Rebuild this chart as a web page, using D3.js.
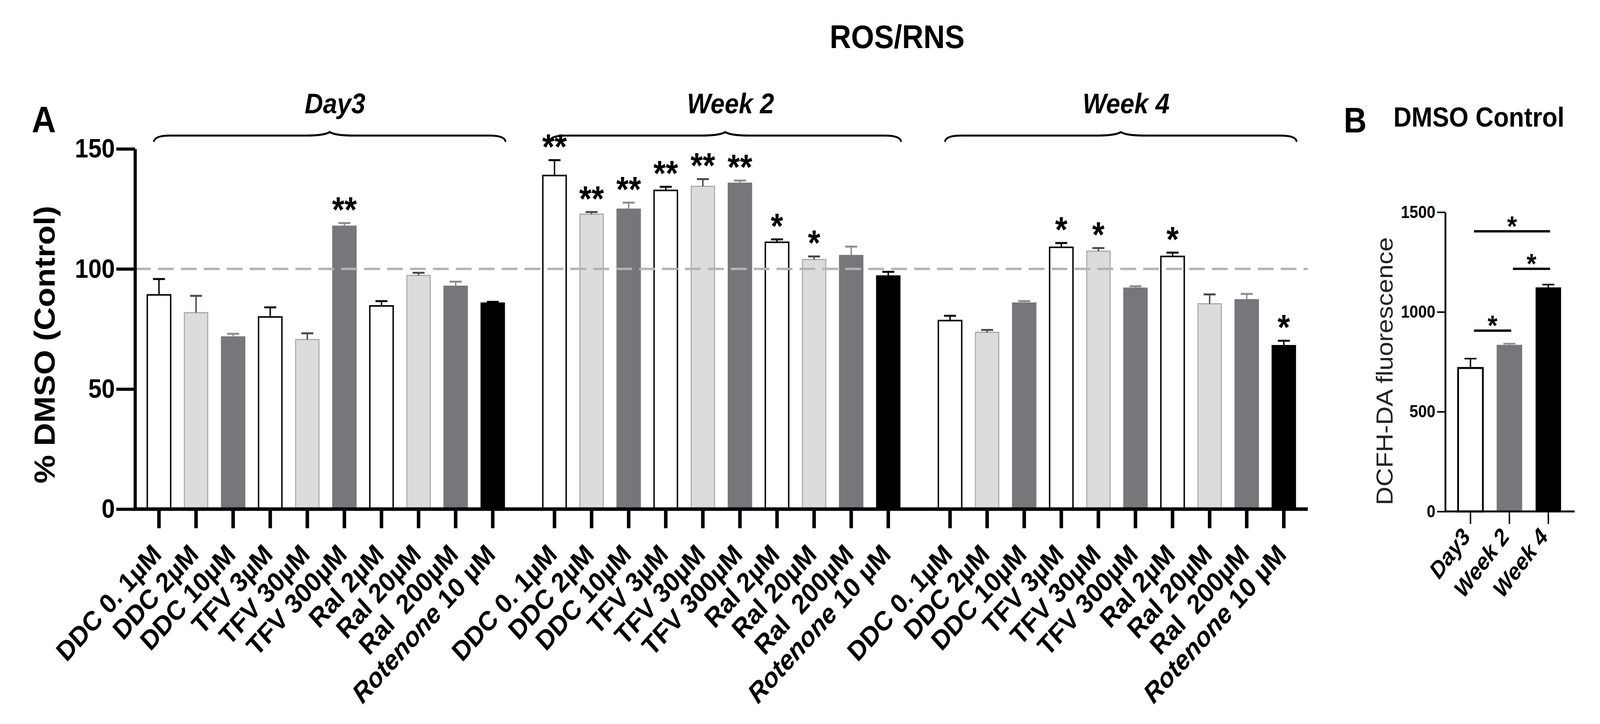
<!DOCTYPE html>
<html>
<head>
<meta charset="utf-8">
<script src="https://cdn.jsdelivr.net/npm/d3@7"></script>
<style>
  html, body { margin: 0; padding: 0; background: #fff; overflow: hidden; }
  svg { display: block; width: 100vw; height: 100vh; font-family: "Liberation Sans", Arial, Helvetica, sans-serif; }
  text { white-space: pre; }
</style>
</head>
<body>
<svg id="chart" viewBox="0 0 4539 1853" preserveAspectRatio="none"></svg>
<script>
// ---- panel A data ----
const groups = ['Day3', 'Week 2', 'Week 4'];
const compounds = ['DDC 0. 1µM', 'DDC 2µM', 'DDC 10µM', 'TFV 3µM', 'TFV 30µM', 'TFV 300µM',
  'Ral 2µM', 'Ral 20µM', 'Ral  200µM', 'Rotenone 10 µM'];
const shades = ['white', 'light', 'dark', 'white', 'light', 'dark', 'white', 'light', 'dark', 'black'];

const day3Mean = [89.2, 81.8, 71.7, 80.0, 70.6, 117.8, 84.6, 97.3, 92.8, 85.8];
const day3Err = [6.6, 7.0, 1.3, 4.0, 2.6, 1.3, 2.0, 1.1, 1.9, 0.5];
const day3Sig = ['', '', '', '', '', '**', '', '', '', ''];

const week2Mean = [138.9, 122.8, 124.9, 132.7, 134.4, 135.7, 111.1, 103.9, 105.6, 97.1];
const week2Err = [6.4, 0.9, 2.7, 1.5, 3.0, 1.1, 1.2, 1.3, 3.7, 1.7];
const week2Sig = ['**', '**', '**', '**', '**', '**', '*', '*', '', ''];

const week4Mean = [78.5, 73.6, 85.8, 109.0, 107.4, 92.0, 105.2, 85.5, 87.2, 68.1];
const week4Err = [2.0, 1.0, 0.8, 1.8, 1.3, 0.8, 1.6, 3.9, 2.4, 2.0];
const week4Sig = ['', '', '', '*', '*', '', '*', '', '', '*'];

const yTicks = [0, 50, 100, 150];
const controlLevel = 100;

// ---- panel B data ----
const dmsoGroups = ['Day3', 'Week 2', 'Week 4'];
const dmsoMean = [719, 833, 1121];
const dmsoErr = [47, 8, 16];
const dmsoShades = ['white', 'dark', 'black'];
const dmsoTicks = [0, 500, 1000, 1500];
const dmsoComparisons = [
  { from: 'Day3', to: 'Week 2', level: 906, label: '*' },
  { from: 'Week 2', to: 'Week 4', level: 1216, label: '*' },
  { from: 'Day3', to: 'Week 4', level: 1404, label: '*' }
];

const shadeStyle = {
  white: { fill: '#ffffff', stroke: '#000000', err: '#000000' },
  light: { fill: '#dcdcdc', stroke: '#a9a9a9', err: '#4a4a4a' },
  dark: { fill: '#76767b', stroke: '#76767b', err: '#8d8d91' },
  black: { fill: '#000000', stroke: '#000000', err: '#000000' }
};

const svg = d3.select('#chart');

// title
svg.append('text')
  .attr('x', 2545).attr('y', 123)
  .attr('text-anchor', 'middle')
  .attr('font-size', 84).attr('font-weight', 'bold')
  .text('ROS/RNS');

// ================= Panel A =================
const series = [
  { group: 'Day3', mean: day3Mean, err: day3Err, sig: day3Sig },
  { group: 'Week 2', mean: week2Mean, err: week2Err, sig: week2Sig },
  { group: 'Week 4', mean: week4Mean, err: week4Err, sig: week4Sig }
];
const rows = series.flatMap(s => compounds.map((c, i) => ({
  group: s.group, compound: c, mean: s.mean[i], err: s.err[i], sig: s.sig[i], shade: shades[i]
})));

const x0 = d3.scaleBand().domain(groups).range([383, 3710])
  .paddingInner(0.0624).paddingOuter(0.0137);
const x1 = d3.scaleBand().domain(compounds).range([0, x0.bandwidth()])
  .paddingInner(0.37).paddingOuter(0.185);
const y = d3.scaleLinear().domain([0, 150]).range([1303, 381]);
const cx = d => x0(d.group) + x1(d.compound) + x1.bandwidth() / 2;

svg.append('text')
  .attr('x', 90).attr('y', 339)
  .attr('font-size', 95).attr('font-weight', 'bold')
  .text('A');

const plotA = svg.append('g');

// bars
plotA.selectAll('.bar')
  .data(rows)
  .enter()
  .append('rect')
  .attr('class', 'bar')
  .attr('x', d => x0(d.group) + x1(d.compound))
  .attr('y', d => y(d.mean))
  .attr('width', x1.bandwidth())
  .attr('height', d => y(0) - y(d.mean))
  .attr('fill', d => shadeStyle[d.shade].fill)
  .attr('stroke', d => shadeStyle[d.shade].stroke)
  .attr('stroke-width', d => d.shade === 'white' ? 4 : 3);

// error bars (upper only)
const errA = plotA.selectAll('.err')
  .data(rows)
  .enter()
  .append('g')
  .attr('class', 'err')
  .attr('stroke', d => shadeStyle[d.shade].err);
errA.append('line')
  .attr('x1', cx).attr('x2', cx)
  .attr('y1', d => y(d.mean)).attr('y2', d => y(d.mean + d.err))
  .attr('stroke-width', 4);
errA.append('line')
  .attr('x1', d => cx(d) - 17).attr('x2', d => cx(d) + 17)
  .attr('y1', d => y(d.mean + d.err)).attr('y2', d => y(d.mean + d.err))
  .attr('stroke-width', 5);

// dashed control line
plotA.append('line')
  .attr('x1', x0.range()[0]).attr('x2', x0.range()[1])
  .attr('y1', y(controlLevel)).attr('y2', y(controlLevel))
  .attr('stroke', '#b3b3b3')
  .attr('stroke-width', 6)
  .attr('stroke-dasharray', '45 20');

// y axis
const yAxisA = plotA.append('g')
  .attr('transform', `translate(${x0.range()[0]},0)`)
  .call(d3.axisLeft(y).tickValues(yTicks).tickSize(53).tickSizeOuter(0).tickPadding(4));
yAxisA.select('.domain').attr('stroke-width', 9);
yAxisA.selectAll('.tick line').attr('stroke-width', 8);
yAxisA.selectAll('.tick text')
  .attr('font-size', 68).attr('font-weight', 'bold')
  .attr('font-family', '"Liberation Sans", Arial, sans-serif')
  .attr('fill', '#000');

// x axis line and ticks
plotA.append('line')
  .attr('x1', x0.range()[0] - 4).attr('x2', x0.range()[1])
  .attr('y1', y(0)).attr('y2', y(0))
  .attr('stroke', '#000').attr('stroke-width', 9);
plotA.selectAll('.xtick')
  .data(rows)
  .enter()
  .append('line')
  .attr('class', 'xtick')
  .attr('x1', cx).attr('x2', cx)
  .attr('y1', y(0)).attr('y2', y(0) + 49)
  .attr('stroke', '#000').attr('stroke-width', 10);

// x labels
const labelsA = plotA.selectAll('.xlabel')
  .data(rows)
  .enter()
  .append('text')
  .attr('class', 'xlabel')
  .attr('transform', d => `translate(${cx(d) + 11},${y(0) + 120}) rotate(-45)`)
  .attr('text-anchor', 'end')
  .attr('font-size', 70).attr('font-weight', 'bold');
labelsA.each(function(d) {
  const t = d3.select(this);
  if (d.compound.startsWith('Rotenone')) {
    t.append('tspan').attr('font-style', 'italic').text('Rotenone');
    t.append('tspan').text(d.compound.slice('Rotenone'.length));
  } else {
    t.text(d.compound);
  }
});

// significance stars
plotA.selectAll('.sig')
  .data(rows.filter(d => d.sig))
  .enter()
  .append('text')
  .attr('class', 'sig')
  .attr('x', cx)
  .attr('y', d => y(d.mean + d.err) - 3)
  .attr('text-anchor', 'middle')
  .attr('font-size', 90).attr('font-weight', 'bold')
  .text(d => d.sig);

// braces with group labels
function bracePath(xa, xb) {
  const mid = (xa + xb) / 2;
  const p = d3.path();
  p.moveTo(xa, 361);
  p.quadraticCurveTo(xa + 4, 347, xa + 45, 347);
  p.lineTo(mid - 70, 347);
  p.quadraticCurveTo(mid - 15, 347, mid, 338);
  p.quadraticCurveTo(mid + 15, 347, mid + 70, 347);
  p.lineTo(xb - 45, 347);
  p.quadraticCurveTo(xb - 4, 347, xb, 361);
  return p.toString();
}
groups.forEach(g => {
  const first = cx({ group: g, compound: compounds[0] });
  const last = cx({ group: g, compound: compounds[compounds.length - 1] });
  const xa = first - 14, xb = last + 36;
  plotA.append('path')
    .attr('d', bracePath(xa, xb))
    .attr('fill', 'none')
    .attr('stroke', '#000')
    .attr('stroke-width', 5)
    .attr('stroke-linecap', 'round');
  plotA.append('text')
    .attr('x', (xa + xb) / 2 + 15).attr('y', 290)
    .attr('text-anchor', 'middle')
    .attr('font-size', 72).attr('font-weight', 'bold').attr('font-style', 'italic')
    .text(g);
});

// y title
plotA.append('text')
  .attr('transform', 'translate(155,882) rotate(-90)')
  .attr('text-anchor', 'middle')
  .attr('font-size', 82).attr('font-weight', 'bold')
  .text('% DMSO (Control)');

// ================= Panel B =================
const dmsoRows = dmsoGroups.map((g, i) => ({
  group: g, mean: dmsoMean[i], err: dmsoErr[i], shade: dmsoShades[i]
}));

const xb = d3.scaleBand().domain(dmsoGroups).range([4100, 4464])
  .paddingInner(0.364).paddingOuter(0.33);
const yb = d3.scaleLinear().domain([0, 1500]).range([1309, 543]);
const cxb = g => xb(g) + xb.bandwidth() / 2;

svg.append('text')
  .attr('x', 3812).attr('y', 339)
  .attr('font-size', 90).attr('font-weight', 'bold')
  .text('B');
svg.append('text')
  .attr('x', 3953).attr('y', 324)
  .attr('font-size', 71).attr('font-weight', 'bold')
  .text('DMSO Control');

const plotB = svg.append('g');

plotB.selectAll('.bbar')
  .data(dmsoRows)
  .enter()
  .append('rect')
  .attr('class', 'bbar')
  .attr('x', d => xb(d.group))
  .attr('y', d => yb(d.mean))
  .attr('width', xb.bandwidth())
  .attr('height', d => yb(0) - yb(d.mean))
  .attr('fill', d => shadeStyle[d.shade].fill)
  .attr('stroke', d => shadeStyle[d.shade].stroke)
  .attr('stroke-width', d => d.shade === 'white' ? 5 : 2);

const errB = plotB.selectAll('.berr')
  .data(dmsoRows)
  .enter()
  .append('g')
  .attr('class', 'berr')
  .attr('stroke', d => shadeStyle[d.shade].err);
errB.append('line')
  .attr('x1', d => cxb(d.group)).attr('x2', d => cxb(d.group))
  .attr('y1', d => yb(d.mean)).attr('y2', d => yb(d.mean + d.err))
  .attr('stroke-width', 4);
errB.append('line')
  .attr('x1', d => cxb(d.group) - 17).attr('x2', d => cxb(d.group) + 17)
  .attr('y1', d => yb(d.mean + d.err)).attr('y2', d => yb(d.mean + d.err))
  .attr('stroke-width', 4);

const yAxisB = plotB.append('g')
  .attr('transform', `translate(${xb.range()[0]},0)`)
  .call(d3.axisLeft(yb).tickValues(dmsoTicks).tickFormat(d3.format('d'))
    .tickSize(23).tickSizeOuter(0).tickPadding(5));
yAxisB.select('.domain').attr('stroke-width', 5);
yAxisB.selectAll('.tick line').attr('stroke-width', 4);
yAxisB.selectAll('.tick text')
  .attr('font-size', 44).attr('font-weight', 'bold')
  .attr('font-family', '"Liberation Sans", Arial, sans-serif')
  .attr('fill', '#000');

plotB.append('line')
  .attr('x1', xb.range()[0] - 2).attr('x2', xb.range()[1] + 3)
  .attr('y1', yb(0)).attr('y2', yb(0))
  .attr('stroke', '#000').attr('stroke-width', 5);
plotB.selectAll('.bxtick')
  .data(dmsoRows)
  .enter()
  .append('line')
  .attr('class', 'bxtick')
  .attr('x1', d => cxb(d.group)).attr('x2', d => cxb(d.group))
  .attr('y1', yb(0)).attr('y2', yb(0) + 32)
  .attr('stroke', '#000').attr('stroke-width', 4);

plotB.selectAll('.bxlabel')
  .data(dmsoRows)
  .enter()
  .append('text')
  .attr('class', 'bxlabel')
  .attr('transform', d => `translate(${cxb(d.group) + 3},${yb(0) + 66}) rotate(-50)`)
  .attr('text-anchor', 'end')
  .attr('font-size', 60).attr('font-weight', 'bold').attr('font-style', 'italic')
  .text(d => d.group);

// comparison bars
const comp = plotB.selectAll('.comp')
  .data(dmsoComparisons)
  .enter()
  .append('g')
  .attr('class', 'comp');
comp.append('line')
  .attr('x1', d => cxb(d.from) + 10).attr('x2', d => cxb(d.to) + 5)
  .attr('y1', d => yb(d.level)).attr('y2', d => yb(d.level))
  .attr('stroke', '#000').attr('stroke-width', 6);
comp.append('text')
  .attr('x', d => (cxb(d.from) + 10 + cxb(d.to) + 5) / 2)
  .attr('y', d => yb(d.level) + 12)
  .attr('text-anchor', 'middle')
  .attr('font-size', 72).attr('font-weight', 'bold')
  .text(d => d.label);

plotB.append('text')
  .attr('transform', 'translate(3951,950) rotate(-90)')
  .attr('text-anchor', 'middle')
  .attr('font-size', 66)
  .attr('fill', '#222')
  .text('DCFH-DA fluorescence');
</script>
</body>
</html>
